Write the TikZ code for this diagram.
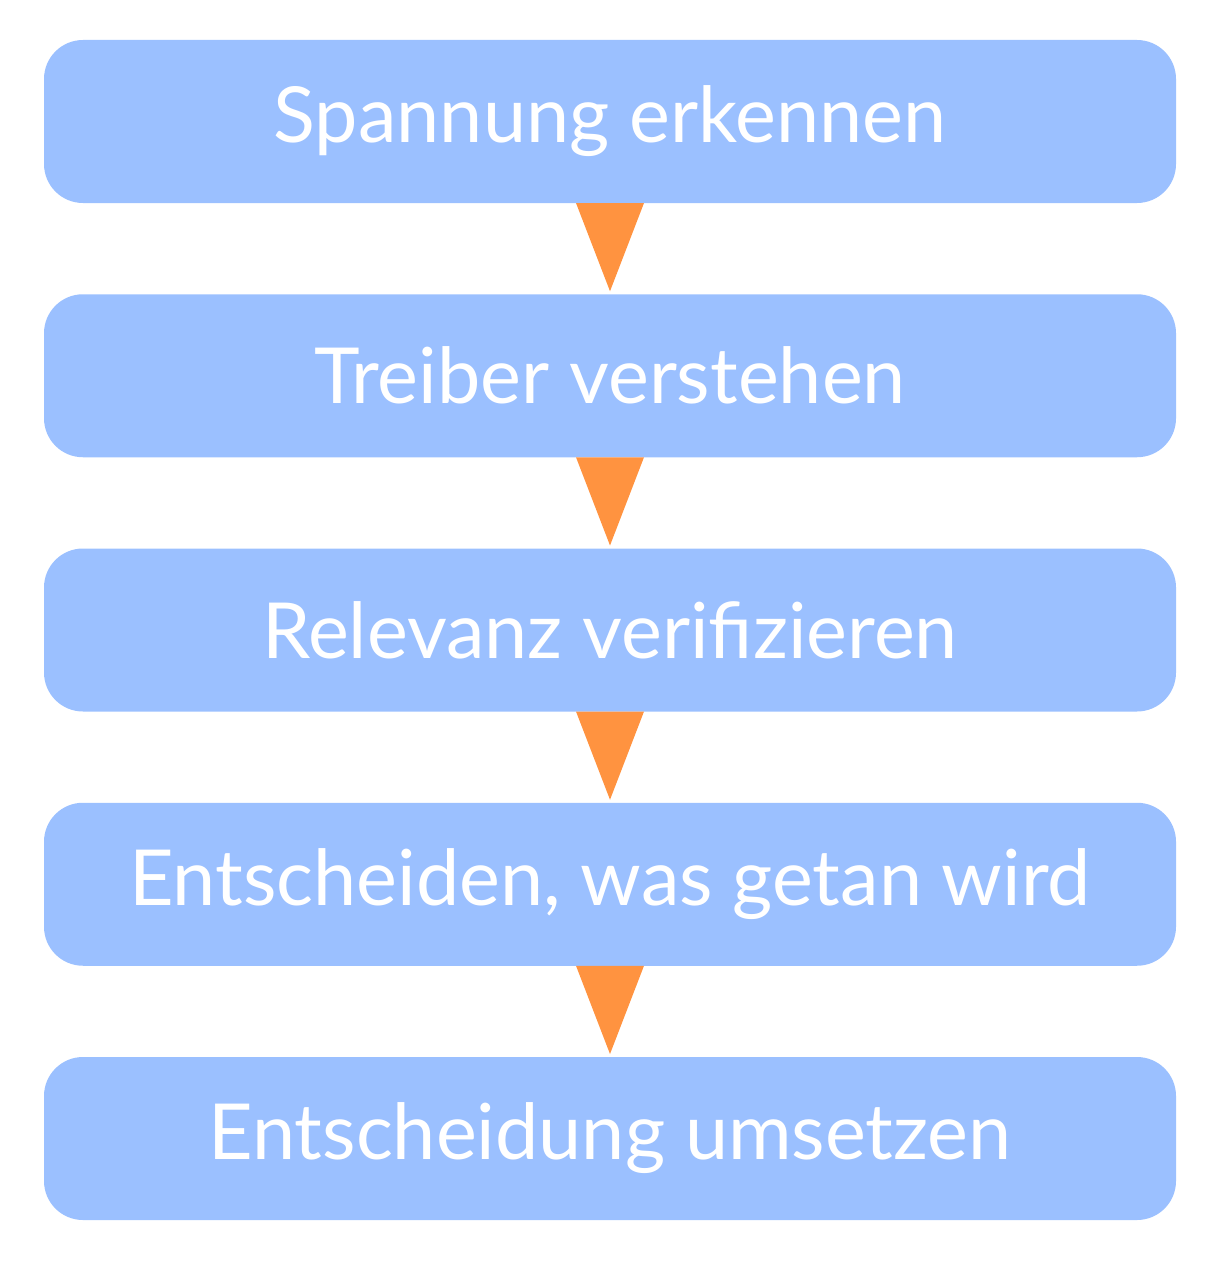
\documentclass[tikz,border=0pt]{standalone}
\usepackage{fontspec}
\setmainfont{Lato}
\usetikzlibrary{positioning, calc}
\definecolor{boxblau}{HTML}{9BC0FF}
\definecolor{pfeilorange}{HTML}{FF9340}

\begin{document}
\begin{tikzpicture}[
    stepbox/.style={fill=boxblau, rounded corners=0.78cm, minimum width=22.64cm,
        minimum height=3.26cm, outer sep=0pt, text=white, font=\fontsize{44}{48}\selectfont},
    pfeil/.style={fill=pfeilorange},
    node distance=1.825cm
  ]
    \useasboundingbox (0,0) rectangle (24.1,-25.26);
    % Schritte
    \node [stepbox] (spannung) at (12.2,-2.43) {Spannung erkennen};
    \node [stepbox, below=of spannung] (treiber) {Treiber verstehen};
    \node [stepbox, below=of treiber] (relevanz) {Relevanz verifizieren};
    \node [stepbox, below=of relevanz] (entscheiden) {Entscheiden, was getan wird};
    \node [stepbox, below=of entscheiden] (umsetzen) {Entscheidung umsetzen};
    % Dreiecke dazwischen
    \foreach \a/\b in {spannung/treiber, treiber/relevanz, relevanz/entscheiden, entscheiden/umsetzen}
        \fill [pfeil] ($(\a.south)+(-0.68,0)$) -- ($(\a.south)+(0.68,0)$) -- ($(\b.north)+(0,0.06)$) -- cycle;
\end{tikzpicture}
\end{document}
